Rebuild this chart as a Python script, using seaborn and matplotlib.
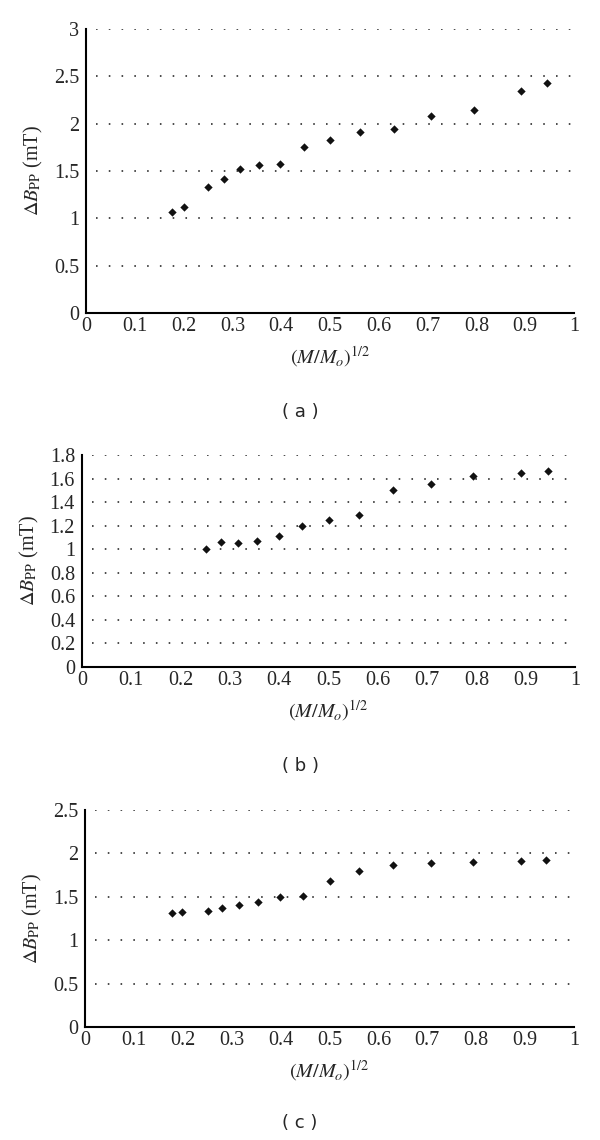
import matplotlib
matplotlib.use("Agg")
import matplotlib.pyplot as plt
import matplotlib.ticker as mticker
import seaborn as sns
import pandas as pd

# square root of relative mass, shared by the three series
x_a = [0.177, 0.200, 0.251, 0.283, 0.316, 0.354, 0.398, 0.447, 0.501, 0.562, 0.631, 0.708, 0.795, 0.891, 0.944]
y_a = [1.07, 1.12, 1.33, 1.42, 1.52, 1.56, 1.57, 1.75, 1.83, 1.91, 1.94, 2.08, 2.14, 2.35, 2.43]

x_b = [0.251, 0.282, 0.316, 0.354, 0.399, 0.447, 0.501, 0.562, 0.631, 0.708, 0.794, 0.891, 0.945]
y_b = [1.00, 1.06, 1.05, 1.07, 1.11, 1.20, 1.25, 1.29, 1.50, 1.55, 1.62, 1.65, 1.66]

x_c = [0.177, 0.198, 0.251, 0.280, 0.315, 0.354, 0.398, 0.446, 0.501, 0.561, 0.630, 0.707, 0.794, 0.891, 0.943]
y_c = [1.31, 1.33, 1.34, 1.37, 1.41, 1.44, 1.50, 1.51, 1.68, 1.80, 1.87, 1.89, 1.90, 1.91, 1.92]

y_max = [3.0, 1.8, 2.5]
y_step = [0.5, 0.2, 0.5]
panel_labels = ["( a )", "( b )", "( c )"]

sns.set_style("white")
plt.rcParams["font.family"] = ["Liberation Serif", "DejaVu Serif"]
plt.rcParams["mathtext.fontset"] = "stix"

fig = plt.figure(figsize=(6, 11.4), dpi=100)

# axes boxes in figure fractions [left, bottom, width, height]
boxes = [
    [0.1433, 0.7254, 0.8133, 0.2491],
    [0.1367, 0.4149, 0.8217, 0.1860],
    [0.1417, 0.0991, 0.8150, 0.1904],
]
label_y = [0.6386, 0.3281, 0.0149]

series = [(x_a, y_a), (x_b, y_b), (x_c, y_c)]

for i, (xs, ys) in enumerate(series):
    ax = fig.add_axes(boxes[i])
    df = pd.DataFrame({"x": xs, "y": ys})
    sns.scatterplot(data=df, x="x", y="y", ax=ax, marker="D", s=18,
                    color="#111111", linewidth=0, zorder=3)
    ax.set_xlim(0, 1)
    ax.set_ylim(0, y_max[i])
    ax.xaxis.set_major_locator(mticker.MultipleLocator(0.1))
    ax.yaxis.set_major_locator(mticker.MultipleLocator(y_step[i]))
    fmt = mticker.FuncFormatter(lambda v, p: f"{round(v, 2):g}")
    ax.xaxis.set_major_formatter(fmt)
    ax.yaxis.set_major_formatter(fmt)
    ax.tick_params(length=0, labelsize=14.5)
    ax.tick_params(axis="x", pad=3)
    ax.tick_params(axis="y", pad=5)

    # dotted horizontal gridlines, skipping the zero line
    n = int(round(y_max[i] / y_step[i]))
    for k in range(1, n + 1):
        ax.axhline(k * y_step[i], xmin=0.02, color="#222222", linewidth=1.15,
                   linestyle=(0, (1, 7.0)), zorder=1)

    for side in ["top", "right"]:
        ax.spines[side].set_visible(False)
    for side in ["left", "bottom"]:
        ax.spines[side].set_color("black")
        ax.spines[side].set_linewidth(1.5)

    ax.set_xlabel(r"$(M/M_o)^{1/2}$", fontsize=14.5, labelpad=6)
    ax.set_ylabel(r"$\Delta B_{\mathrm{PP}}$ (mT)", fontsize=14.5, labelpad=6)

    fig.text(0.5, label_y[i], panel_labels[i], ha="center", va="center",
             fontsize=13, family=["DejaVu Sans"])

fig.savefig("out.png", dpi=100)
